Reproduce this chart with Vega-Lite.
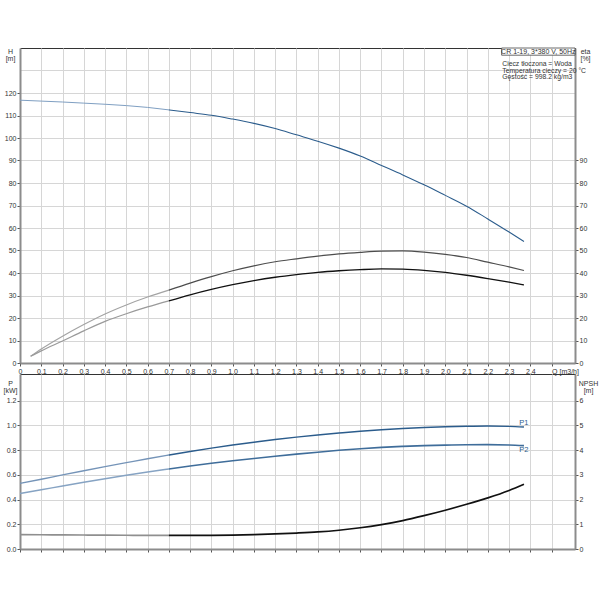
{
  "$schema": "https://vega.github.io/schema/vega-lite/v6.json",
  "background": "white",
  "padding": {"left": 2, "top": 46, "right": 2, "bottom": 5},
  "config": {
    "font": "Liberation Sans",
    "view": {"stroke": "#333333", "strokeWidth": 1},
    "axis": {
      "domainColor": "#8c8c8c",
      "domainWidth": 2,
      "tickColor": "#555555",
      "tickSize": 3,
      "labelPadding": 1,
      "labelOverlap": false,
      "labelFont": "Liberation Sans",
      "labelFontSize": 7,
      "labelColor": "#333333",
      "titleFont": "Liberation Sans",
      "titleFontSize": 7,
      "titleFontWeight": "normal",
      "titleColor": "#333333",
      "titleLineHeight": 7,
      "titleAngle": 0,
      "titleAlign": "center",
      "titleBaseline": "top",
      "gridColor": "#d6d6d6",
      "gridWidth": 1
    },
    "text": {"font": "Liberation Sans", "fontSize": 7, "color": "#333333"}
  },
  "datasets": {
    "curves": [
      {"series": "H-a", "Q": 0, "value": 116.8},
      {"series": "H-a", "Q": 0.1, "value": 116.4},
      {"series": "H-a", "Q": 0.2, "value": 116.0},
      {"series": "H-a", "Q": 0.3, "value": 115.5},
      {"series": "H-a", "Q": 0.4, "value": 115.0},
      {"series": "H-a", "Q": 0.5, "value": 114.4},
      {"series": "H-a", "Q": 0.6, "value": 113.6},
      {"series": "H-a", "Q": 0.7, "value": 112.5},
      {"series": "H-b", "Q": 0.7, "value": 112.5},
      {"series": "H-b", "Q": 0.8, "value": 111.3},
      {"series": "H-b", "Q": 0.9, "value": 110.1},
      {"series": "H-b", "Q": 1.0, "value": 108.4},
      {"series": "H-b", "Q": 1.1, "value": 106.5},
      {"series": "H-b", "Q": 1.2, "value": 104.2},
      {"series": "H-b", "Q": 1.3, "value": 101.4},
      {"series": "H-b", "Q": 1.4, "value": 98.6},
      {"series": "H-b", "Q": 1.5, "value": 95.5},
      {"series": "H-b", "Q": 1.6, "value": 92.0},
      {"series": "H-b", "Q": 1.7, "value": 87.8},
      {"series": "H-b", "Q": 1.8, "value": 83.6},
      {"series": "H-b", "Q": 1.9, "value": 79.2},
      {"series": "H-b", "Q": 2.0, "value": 74.5},
      {"series": "H-b", "Q": 2.1, "value": 69.7},
      {"series": "H-b", "Q": 2.2, "value": 64.0},
      {"series": "H-b", "Q": 2.3, "value": 58.2},
      {"series": "H-b", "Q": 2.37, "value": 54.0},

      {"series": "E1-a", "Q": 0.05, "value": 3.0},
      {"series": "E1-a", "Q": 0.1, "value": 6.2},
      {"series": "E1-a", "Q": 0.2, "value": 11.9},
      {"series": "E1-a", "Q": 0.3, "value": 17.1},
      {"series": "E1-a", "Q": 0.4, "value": 21.8},
      {"series": "E1-a", "Q": 0.5, "value": 25.8},
      {"series": "E1-a", "Q": 0.6, "value": 29.3},
      {"series": "E1-a", "Q": 0.7, "value": 32.4},
      {"series": "E1-b", "Q": 0.7, "value": 32.4},
      {"series": "E1-b", "Q": 0.8, "value": 35.5},
      {"series": "E1-b", "Q": 0.9, "value": 38.4},
      {"series": "E1-b", "Q": 1.0, "value": 41.0},
      {"series": "E1-b", "Q": 1.1, "value": 43.2},
      {"series": "E1-b", "Q": 1.2, "value": 45.0},
      {"series": "E1-b", "Q": 1.3, "value": 46.3},
      {"series": "E1-b", "Q": 1.4, "value": 47.5},
      {"series": "E1-b", "Q": 1.5, "value": 48.5},
      {"series": "E1-b", "Q": 1.6, "value": 49.2},
      {"series": "E1-b", "Q": 1.7, "value": 49.7},
      {"series": "E1-b", "Q": 1.8, "value": 49.8},
      {"series": "E1-b", "Q": 1.9, "value": 49.3},
      {"series": "E1-b", "Q": 2.0, "value": 48.3},
      {"series": "E1-b", "Q": 2.1, "value": 46.9},
      {"series": "E1-b", "Q": 2.2, "value": 44.8},
      {"series": "E1-b", "Q": 2.3, "value": 42.7},
      {"series": "E1-b", "Q": 2.37, "value": 41.1},

      {"series": "E2-a", "Q": 0.05, "value": 3.0},
      {"series": "E2-a", "Q": 0.1, "value": 5.4},
      {"series": "E2-a", "Q": 0.2, "value": 9.8},
      {"series": "E2-a", "Q": 0.3, "value": 14.3},
      {"series": "E2-a", "Q": 0.4, "value": 18.5},
      {"series": "E2-a", "Q": 0.5, "value": 21.9},
      {"series": "E2-a", "Q": 0.6, "value": 24.9},
      {"series": "E2-a", "Q": 0.7, "value": 27.6},
      {"series": "E2-b", "Q": 0.7, "value": 27.6},
      {"series": "E2-b", "Q": 0.8, "value": 30.3},
      {"series": "E2-b", "Q": 0.9, "value": 32.7},
      {"series": "E2-b", "Q": 1.0, "value": 34.8},
      {"series": "E2-b", "Q": 1.1, "value": 36.6},
      {"series": "E2-b", "Q": 1.2, "value": 38.1},
      {"series": "E2-b", "Q": 1.3, "value": 39.3},
      {"series": "E2-b", "Q": 1.4, "value": 40.3},
      {"series": "E2-b", "Q": 1.5, "value": 41.0},
      {"series": "E2-b", "Q": 1.6, "value": 41.5},
      {"series": "E2-b", "Q": 1.7, "value": 41.8},
      {"series": "E2-b", "Q": 1.8, "value": 41.7},
      {"series": "E2-b", "Q": 1.9, "value": 41.2},
      {"series": "E2-b", "Q": 2.0, "value": 40.3},
      {"series": "E2-b", "Q": 2.1, "value": 39.0},
      {"series": "E2-b", "Q": 2.2, "value": 37.5},
      {"series": "E2-b", "Q": 2.3, "value": 35.9},
      {"series": "E2-b", "Q": 2.37, "value": 34.7},

      {"series": "P1-a", "Q": 0, "value": 0.531},
      {"series": "P1-a", "Q": 0.1, "value": 0.565},
      {"series": "P1-a", "Q": 0.2, "value": 0.6},
      {"series": "P1-a", "Q": 0.3, "value": 0.634},
      {"series": "P1-a", "Q": 0.4, "value": 0.667},
      {"series": "P1-a", "Q": 0.5, "value": 0.699},
      {"series": "P1-a", "Q": 0.6, "value": 0.731},
      {"series": "P1-a", "Q": 0.7, "value": 0.761},
      {"series": "P1-b", "Q": 0.7, "value": 0.761},
      {"series": "P1-b", "Q": 0.8, "value": 0.79},
      {"series": "P1-b", "Q": 0.9, "value": 0.817},
      {"series": "P1-b", "Q": 1.0, "value": 0.842},
      {"series": "P1-b", "Q": 1.1, "value": 0.865},
      {"series": "P1-b", "Q": 1.2, "value": 0.887},
      {"series": "P1-b", "Q": 1.3, "value": 0.906},
      {"series": "P1-b", "Q": 1.4, "value": 0.923},
      {"series": "P1-b", "Q": 1.5, "value": 0.939},
      {"series": "P1-b", "Q": 1.6, "value": 0.954},
      {"series": "P1-b", "Q": 1.7, "value": 0.966},
      {"series": "P1-b", "Q": 1.8, "value": 0.976},
      {"series": "P1-b", "Q": 1.9, "value": 0.984},
      {"series": "P1-b", "Q": 2.0, "value": 0.99},
      {"series": "P1-b", "Q": 2.1, "value": 0.994},
      {"series": "P1-b", "Q": 2.2, "value": 0.996},
      {"series": "P1-b", "Q": 2.3, "value": 0.993},
      {"series": "P1-b", "Q": 2.37, "value": 0.988},

      {"series": "P2-a", "Q": 0, "value": 0.45},
      {"series": "P2-a", "Q": 0.1, "value": 0.48},
      {"series": "P2-a", "Q": 0.2, "value": 0.51},
      {"series": "P2-a", "Q": 0.3, "value": 0.54},
      {"series": "P2-a", "Q": 0.4, "value": 0.569},
      {"series": "P2-a", "Q": 0.5, "value": 0.597},
      {"series": "P2-a", "Q": 0.6, "value": 0.623},
      {"series": "P2-a", "Q": 0.7, "value": 0.648},
      {"series": "P2-b", "Q": 0.7, "value": 0.648},
      {"series": "P2-b", "Q": 0.8, "value": 0.672},
      {"series": "P2-b", "Q": 0.9, "value": 0.694},
      {"series": "P2-b", "Q": 1.0, "value": 0.714},
      {"series": "P2-b", "Q": 1.1, "value": 0.733},
      {"series": "P2-b", "Q": 1.2, "value": 0.751},
      {"series": "P2-b", "Q": 1.3, "value": 0.768},
      {"series": "P2-b", "Q": 1.4, "value": 0.784},
      {"series": "P2-b", "Q": 1.5, "value": 0.799},
      {"series": "P2-b", "Q": 1.6, "value": 0.812},
      {"series": "P2-b", "Q": 1.7, "value": 0.823},
      {"series": "P2-b", "Q": 1.8, "value": 0.831},
      {"series": "P2-b", "Q": 1.9, "value": 0.837},
      {"series": "P2-b", "Q": 2.0, "value": 0.841},
      {"series": "P2-b", "Q": 2.1, "value": 0.844},
      {"series": "P2-b", "Q": 2.2, "value": 0.845},
      {"series": "P2-b", "Q": 2.3, "value": 0.842},
      {"series": "P2-b", "Q": 2.37, "value": 0.837},

      {"series": "N-a", "Q": 0, "value": 0.58},
      {"series": "N-a", "Q": 0.1, "value": 0.575},
      {"series": "N-a", "Q": 0.2, "value": 0.57},
      {"series": "N-a", "Q": 0.3, "value": 0.565},
      {"series": "N-a", "Q": 0.4, "value": 0.56},
      {"series": "N-a", "Q": 0.5, "value": 0.555},
      {"series": "N-a", "Q": 0.6, "value": 0.55},
      {"series": "N-a", "Q": 0.7, "value": 0.55},
      {"series": "N-b", "Q": 0.7, "value": 0.55},
      {"series": "N-b", "Q": 0.8, "value": 0.55},
      {"series": "N-b", "Q": 0.9, "value": 0.555},
      {"series": "N-b", "Q": 1.0, "value": 0.565},
      {"series": "N-b", "Q": 1.1, "value": 0.585},
      {"series": "N-b", "Q": 1.2, "value": 0.61},
      {"series": "N-b", "Q": 1.3, "value": 0.645},
      {"series": "N-b", "Q": 1.4, "value": 0.69},
      {"series": "N-b", "Q": 1.5, "value": 0.76},
      {"series": "N-b", "Q": 1.6, "value": 0.86},
      {"series": "N-b", "Q": 1.7, "value": 0.99},
      {"series": "N-b", "Q": 1.8, "value": 1.15},
      {"series": "N-b", "Q": 1.9, "value": 1.35},
      {"series": "N-b", "Q": 2.0, "value": 1.57},
      {"series": "N-b", "Q": 2.1, "value": 1.81},
      {"series": "N-b", "Q": 2.2, "value": 2.07},
      {"series": "N-b", "Q": 2.3, "value": 2.37},
      {"series": "N-b", "Q": 2.37, "value": 2.62}
    ]
  },
  "spacing": 11,
  "bounds": "flush",
  "resolve": {"scale": {"x": "independent"}, "axis": {"x": "independent"}},
  "vconcat": [
    {
      "width": 555,
      "height": 315,
      "data": {"name": "curves"},
      "layer": [
        {
          "transform": [{"filter": {"field": "series", "oneOf": ["H-a", "H-b"]}}],
          "mark": {"type": "line", "interpolate": "monotone"},
          "encoding": {
            "x": {
              "field": "Q", "type": "quantitative",
              "scale": {"domain": [0, 2.61], "nice": false},
              "axis": {
                "title": null, "grid": true, "tickCount": 26,
                "values": [0, 0.1, 0.2, 0.3, 0.4, 0.5, 0.6, 0.7, 0.8, 0.9, 1.0, 1.1, 1.2, 1.3, 1.4, 1.5, 1.6, 1.7, 1.8, 1.9, 2.0, 2.1, 2.2, 2.3, 2.4, 2.5],
                "labelExpr": "datum.value == 0 ? '0' : (datum.value > 2.45 ? 'Q [m3/h]' : format(datum.value, '.1f'))",
                "labelAlign": {"condition": {"test": "datum.value > 2.45", "value": "left"}, "value": "center"},
                "labelFlush": false, "labelOverlap": false
              }
            },
            "y": {
              "field": "value", "type": "quantitative",
              "scale": {"domain": [0, 140], "nice": false},
              "axis": {
                "title": ["H", "[m]"], "titleX": -10, "titleY": -1,
                "grid": true,
                "values": [0, 10, 20, 30, 40, 50, 60, 70, 80, 90, 100, 110, 120, 130],
                "labelExpr": "datum.value > 125 ? '' : datum.label",
                "tickOpacity": {"condition": {"test": "datum.value > 125", "value": 0}, "value": 1}
              }
            },
            "detail": {"field": "series"},
            "color": {"field": "series", "type": "nominal", "legend": null,
              "scale": {"domain": ["H-a", "H-b", "E1-a", "E1-b", "E2-a", "E2-b", "P1-a", "P1-b", "P2-a", "P2-b", "N-a", "N-b"],
                        "range": ["#7f9fc2", "#2b5c8c", "#a3a3a3", "#4d4d4d", "#9a9a9a", "#111111", "#7594b8", "#2b5c8c", "#86a3c3", "#3f6d9a", "#8f8f8f", "#111111"]}},
            "strokeWidth": {"field": "series", "type": "nominal", "legend": null,
              "scale": {"domain": ["H-a", "H-b", "E1-a", "E1-b", "E2-a", "E2-b", "P1-a", "P1-b", "P2-a", "P2-b", "N-a", "N-b"],
                        "range": [1, 1.7, 0.9, 1.1, 0.9, 1.8, 0.9, 1.8, 0.9, 1.2, 0.9, 1.8]}}
          }
        },
        {
          "transform": [{"filter": {"field": "series", "oneOf": ["E1-a", "E1-b", "E2-a", "E2-b"]}}],
          "mark": {"type": "line", "interpolate": "monotone"},
          "encoding": {
            "x": {"field": "Q", "type": "quantitative"},
            "y": {
              "field": "value", "type": "quantitative",
              "scale": {"domain": [0, 140], "nice": false},
              "axis": {
                "orient": "right", "title": ["eta", "[%]"], "titleX": 10, "titleY": -1,
                "grid": false,
                "values": [0, 10, 20, 30, 40, 50, 60, 70, 80, 90]
              }
            },
            "detail": {"field": "series"},
            "color": {"field": "series", "type": "nominal", "legend": null},
            "strokeWidth": {"field": "series", "type": "nominal", "legend": null}
          }
        },
        {
          "data": {"values": [{}]},
          "mark": {"type": "rect", "fill": "white", "stroke": "#444444", "strokeWidth": 0.8},
          "encoding": {
            "x": {"datum": 2.265, "type": "quantitative"},
            "x2": {"datum": 2.61},
            "y": {"datum": 136.8, "type": "quantitative", "scale": {"domain": [0, 140], "nice": false}, "axis": null},
            "y2": {"datum": 140}
          }
        },
        {
          "data": {"values": [{}]},
          "mark": {"type": "text", "text": "CR 1-19, 3*380 V, 50Hz", "align": "center", "baseline": "middle", "fontSize": 7},
          "encoding": {
            "x": {"datum": 2.4375, "type": "quantitative"},
            "y": {"datum": 138.4, "type": "quantitative", "scale": {"domain": [0, 140], "nice": false}, "axis": null}
          }
        },
        {
          "data": {"values": [{}]},
          "mark": {"type": "text", "text": ["Ciecz tłoczona = Woda", "Temperatura cieczy = 20 °C", "Gęstość = 998.2 kg/m3"], "align": "left", "baseline": "top", "fontSize": 6.8, "lineHeight": 6.8},
          "encoding": {
            "x": {"datum": 2.268, "type": "quantitative"},
            "y": {"datum": 134.3, "type": "quantitative", "scale": {"domain": [0, 140], "nice": false}, "axis": null}
          }
        }
      ],
      "resolve": {"scale": {"y": "independent"}}
    },
    {
      "width": 555,
      "height": 175,
      "data": {"name": "curves"},
      "layer": [
        {
          "transform": [{"filter": {"field": "series", "oneOf": ["P1-a", "P1-b", "P2-a", "P2-b"]}}],
          "mark": {"type": "line", "interpolate": "monotone"},
          "encoding": {
            "x": {
              "field": "Q", "type": "quantitative",
              "scale": {"domain": [0, 2.61], "nice": false},
              "axis": {
                "title": null, "grid": true, "labels": false, "tickCount": 26,
                "values": [0, 0.1, 0.2, 0.3, 0.4, 0.5, 0.6, 0.7, 0.8, 0.9, 1.0, 1.1, 1.2, 1.3, 1.4, 1.5, 1.6, 1.7, 1.8, 1.9, 2.0, 2.1, 2.2, 2.3, 2.4, 2.5]
              }
            },
            "y": {
              "field": "value", "type": "quantitative",
              "scale": {"domain": [0, 1.417], "nice": false},
              "axis": {
                "title": ["P", "[kW]"], "titleX": -10, "titleY": 5,
                "grid": true, "format": ".1f",
                "values": [0, 0.2, 0.4, 0.6, 0.8, 1.0, 1.2]
              }
            },
            "detail": {"field": "series"},
            "color": {"field": "series", "type": "nominal", "legend": null,
              "scale": {"domain": ["H-a", "H-b", "E1-a", "E1-b", "E2-a", "E2-b", "P1-a", "P1-b", "P2-a", "P2-b", "N-a", "N-b"],
                        "range": ["#7f9fc2", "#2b5c8c", "#a3a3a3", "#4d4d4d", "#9a9a9a", "#111111", "#7594b8", "#2b5c8c", "#86a3c3", "#3f6d9a", "#8f8f8f", "#111111"]}},
            "strokeWidth": {"field": "series", "type": "nominal", "legend": null,
              "scale": {"domain": ["H-a", "H-b", "E1-a", "E1-b", "E2-a", "E2-b", "P1-a", "P1-b", "P2-a", "P2-b", "N-a", "N-b"],
                        "range": [1, 1.7, 0.9, 1.1, 0.9, 1.8, 0.9, 1.8, 0.9, 1.2, 0.9, 1.8]}}
          }
        },
        {
          "transform": [{"filter": {"field": "series", "oneOf": ["N-a", "N-b"]}}],
          "mark": {"type": "line", "interpolate": "monotone"},
          "encoding": {
            "x": {"field": "Q", "type": "quantitative"},
            "y": {
              "field": "value", "type": "quantitative",
              "scale": {"domain": [0, 7.085], "nice": false},
              "axis": {
                "orient": "right", "title": ["NPSH", "[m]"], "titleX": 13, "titleY": 5,
                "grid": false, "format": "d",
                "values": [0, 1, 2, 3, 4, 5, 6]
              }
            },
            "detail": {"field": "series"},
            "color": {"field": "series", "type": "nominal", "legend": null},
            "strokeWidth": {"field": "series", "type": "nominal", "legend": null}
          }
        },
        {
          "data": {"values": [{"label": "P1", "Q": 2.37, "value": 1.017}, {"label": "P2", "Q": 2.37, "value": 0.8}]},
          "mark": {"type": "text", "align": "center", "baseline": "middle", "fontSize": 7.5, "color": "#2b5c8c"},
          "encoding": {
            "x": {"field": "Q", "type": "quantitative"},
            "y": {"field": "value", "type": "quantitative", "scale": {"domain": [0, 1.417], "nice": false}, "axis": null},
            "text": {"field": "label"}
          }
        }
      ],
      "resolve": {"scale": {"y": "independent"}}
    }
  ]
}
